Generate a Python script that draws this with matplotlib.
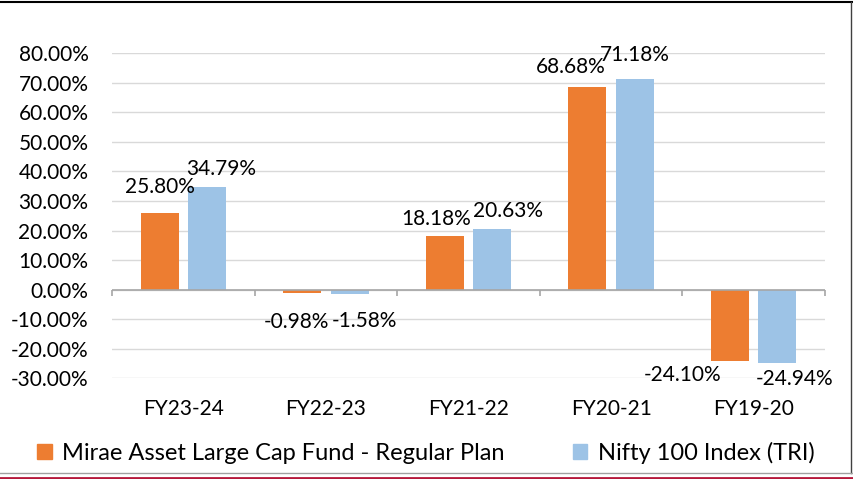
import matplotlib.pyplot as plt
import numpy as np
from matplotlib.lines import Line2D
from matplotlib.patches import Patch

plt.rcParams['font.family'] = ['Lato', 'DejaVu Sans']

# data
categories = ["FY23-24", "FY22-23", "FY21-22", "FY20-21", "FY19-20"]
fund_returns = [25.80, -0.98, 18.18, 68.68, -24.10]
index_returns = [34.79, -1.58, 20.63, 71.18, -24.94]
series_names = ["Mirae Asset Large Cap Fund - Regular Plan", "Nifty 100 Index (TRI)"]
y_ticks = [-30, -20, -10, 0, 10, 20, 30, 40, 50, 60, 70, 80]

# label nudges (pixels, relative to bar end) - labels were moved by hand in the original
fund_label_nudge = [(0, 26), (-6, -29), (-9, 17), (-17, 20), (-47, -14)]
index_label_nudge = [(14, 18), (15, -27), (16, 18), (0, 24), (17, -16)]

ORANGE = "#ED7D31"
BLUE = "#9DC3E6"
FS = 15

fig = plt.figure(figsize=(8.54, 4.79), dpi=100)
ax = fig.add_axes([112 / 854, 1 - 378.3 / 479, (825 - 112) / 854, (378.3 - 53.3) / 479])

x = np.arange(len(categories))
w = 0.266
off = 0.166
b1 = ax.bar(x - off, fund_returns, w, color=ORANGE, zorder=3)
b2 = ax.bar(x + off, index_returns, w, color=BLUE, zorder=3)

ax.set_xlim(-0.5, len(categories) - 0.5)
ax.set_ylim(-30, 80)
ax.set_yticks(y_ticks)
ax.set_yticklabels([f"{v:.2f}%" for v in y_ticks], fontsize=FS)
ax.tick_params(axis='y', length=0, pad=17)
ax.set_xticks(x)
ax.set_xticklabels(categories, fontsize=FS)
ax.tick_params(axis='x', length=0, pad=15)
for s in ax.spines.values():
    s.set_visible(False)
ax.grid(axis='y', color="#d9d9d9", linewidth=1, zorder=0)

# zero axis with category tick marks
ax.axhline(0, color="#a6a6a6", linewidth=1.2, zorder=4)
ax.vlines(np.arange(len(categories) + 1) - 0.5, -2, 0, color="#a6a6a6", linewidth=1.2, zorder=4,
          clip_on=False)

def put_labels(bars, vals, nudges):
    for bar, v, (dx, dy) in zip(bars, vals, nudges):
        ax.annotate(f"{v:.2f}%", (bar.get_x() + bar.get_width() / 2, v),
                    xytext=(dx * 0.72, dy * 0.72), textcoords='offset points',
                    ha='center', va='center', fontsize=FS, zorder=5)

put_labels(b1, fund_returns, fund_label_nudge)
put_labels(b2, index_returns, index_label_nudge)

handles = [Patch(color=ORANGE), Patch(color=BLUE)]
fig.legend(handles, series_names, loc='center', bbox_to_anchor=(426 / 854, 1 - 453 / 479),
           ncol=2, frameon=False, fontsize=17, handlelength=0.6, handleheight=0.6,
           handletextpad=0.45, columnspacing=2.9)

# frame lines
fig.add_artist(Line2D([0, 1], [1 - 2 / 479, 1 - 2 / 479], color="black", linewidth=1.5))
fig.add_artist(Line2D([851.5 / 854, 851.5 / 854], [1 - 2 / 479, 1 - 473 / 479], color="#404040", linewidth=1))
fig.add_artist(Line2D([0, 1], [1 - 473 / 479, 1 - 473 / 479], color="#a0a0a0", linewidth=1))
fig.add_artist(Line2D([0, 1], [1 - 477.5 / 479, 1 - 477.5 / 479], color="#B5173A", linewidth=2))

fig.savefig("out.png", dpi=100)
